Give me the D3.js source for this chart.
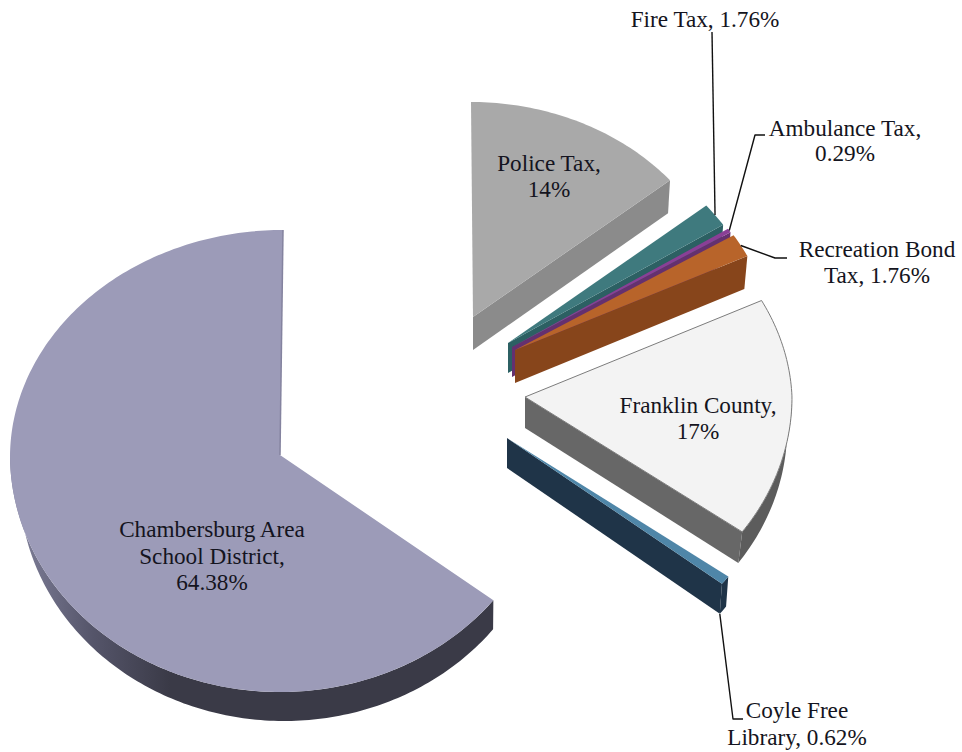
<!DOCTYPE html>
<html>
<head>
<meta charset="utf-8">
<style>
  html, body { margin: 0; padding: 0; background: #fff; }
  svg { display: block; }
  text { font-family: "Liberation Serif", serif; font-size: 23.2px; fill: #141420; text-anchor: middle; }
</style>
<script src="https://cdn.jsdelivr.net/npm/d3@7"></script>
</head>
<body>
<svg id="chart" width="962" height="752"></svg>
<script>
// Share of the property tax levy, clockwise from twelve o'clock.
const categories = ["Police Tax", "Fire Tax", "Ambulance Tax", "Recreation Bond Tax",
                    "Franklin County", "Coyle Free Library", "Chambersburg Area School District"];
const shares = [14, 1.76, 0.29, 1.76, 17, 0.62, 64.38];
const shareLabels = ["14%", "1.76%", "0.29%", "1.76%", "17%", "0.62%", "64.38%"];

const topColors  = ["#a9a9a9", "#3f7a7e", "#8a3f96", "#b8642a", "#f3f3f3", "#4f86a8", "#9c9bb8"];
const sideColors = ["#8b8b8b", "#2c6063", "#65306f", "#87451b", "#676767", "#1f3448", "#3a3a47"];
const rimColors  = ["#8b8b8b", "#2c6063", "#65306f", "#87451b", "#5c5c5c", "#1f3448", "url(#schoolRim)"];

// Each wedge is pulled away from the pie, so it has its own centre and ellipse.
const centerX = [473, 508, 512, 515, 525, 507, 280];
const centerY = [317, 343, 347, 350, 397, 438, 455];
const radiusX = [257, 257, 258, 258, 267, 272, 270];
const radiusUp = [215, 216, 216, 216, 222, 238, 225];
const radiusDown = [215, 216, 216, 216, 232, 238, 237];
const lean = [-2, 0, 0, 0, -9, 0, 3];
const depth = [33, 30, 30, 33, 31, 30, 29];
const rimShrink = [0.99, 0.99, 0.99, 0.987, 0.982, 0.99, 0.98];
const rimShift = [0, 0, 0, 0, 0, 0, 4];

// Label lines and their anchor point.
const labelLines = [
  ["Police Tax,", "14%"],
  ["Fire Tax, 1.76%"],
  ["Ambulance Tax,", "0.29%"],
  ["Recreation Bond", "Tax, 1.76%"],
  ["Franklin County,", "17%"],
  ["Coyle Free", "Library, 0.62%"],
  ["Chambersburg Area", "School District,", "64.38%"]
];
const labelX = [549, 705, 845, 877, 698, 797, 212];
const labelY = [171, 27, 136, 257, 413, 718, 537];
const labelStep = [26, 0, 25, 26, 26, 27, 26.5];

// Leader lines: wedge index, where on the wedge they start, and the elbow points.
const leaders = [
  { slice: 1, at: 0.5, lowered: false, path: [[712, 32]] },
  { slice: 2, at: 0.5, lowered: false, path: [[755, 135], [765, 135]] },
  { slice: 3, at: 0.5, lowered: false, path: [[775, 258], [787, 258]] },
  { slice: 5, at: 1, lowered: true, path: [[733, 719], [743, 719]] }
];

const svg = d3.select("#chart");

const defs = svg.append("defs");
const rimGrad = defs.append("linearGradient")
  .attr("id", "schoolRim").attr("gradientUnits", "userSpaceOnUse")
  .attr("x1", 15).attr("y1", 0).attr("x2", 170).attr("y2", 0);
rimGrad.append("stop").attr("offset", 0).attr("stop-color", "#80809a");
rimGrad.append("stop").attr("offset", 0.5).attr("stop-color", "#55556a");
rimGrad.append("stop").attr("offset", 1).attr("stop-color", "#3a3a47");

const arcs = d3.pie().sort(null).startAngle(0).endAngle(2 * Math.PI)(shares);

// Project a pie angle to the page; `lowered` gives the underside of the wedge.
function project(i, a, lowered) {
  const c = Math.cos(a), s = Math.sin(a);
  const dy = c >= 0 ? radiusUp[i] * c : radiusDown[i] * c;
  return [
    centerX[i] + s * radiusX[i] * (lowered ? rimShrink[i] : 1)
      + (lowered ? rimShift[i] : 0) + (c > 0 ? lean[i] * c : 0),
    centerY[i] - dy + (lowered ? depth[i] : 0)
  ];
}

function sweep(i, a0, a1, lowered) {
  const n = Math.max(2, Math.ceil(Math.abs(a1 - a0) * 60));
  return d3.range(n + 1).map(k => project(i, a0 + (a1 - a0) * k / n, lowered));
}

const polygon = d3.line().curve(d3.curveLinearClosed);

const wedges = svg.append("g").selectAll("g").data(arcs).join("g");

wedges.each(function (d, i) {
  const g = d3.select(this);
  const apex = [centerX[i], centerY[i]];
  const apexLow = [centerX[i], centerY[i] + depth[i]];

  // Cut face along the wedge's closing edge, seen only on the right of the pie.
  if (d.endAngle < Math.PI) {
    g.append("path")
      .attr("d", polygon([apex, project(i, d.endAngle, false), project(i, d.endAngle, true), apexLow]))
      .attr("fill", sideColors[i]);
  }

  // Outer rim, seen along the lower half of the ellipse.
  const r0 = Math.max(d.startAngle, Math.PI / 2);
  const r1 = Math.min(d.endAngle, 3 * Math.PI / 2);
  if (r1 > r0) {
    g.append("path")
      .attr("d", polygon(sweep(i, r0, r1, false).concat(sweep(i, r1, r0, true))))
      .attr("fill", rimColors[i]);
  }

  // Upper face.
  const face = g.append("path")
    .attr("d", polygon([apex].concat(sweep(i, d.startAngle, d.endAngle, false))))
    .attr("fill", topColors[i]);
  if (categories[i] === "Franklin County") {
    face.attr("stroke", "#7c7c7c").attr("stroke-width", 1);
  }
  if (d.endAngle >= 2 * Math.PI - 1e-6) {
    g.append("path")
      .attr("d", d3.line()([apex, project(i, d.endAngle, false)]))
      .attr("stroke", "#84839f").attr("stroke-width", 1.5).attr("fill", "none");
  }
});

svg.append("g").selectAll("path").data(leaders).join("path")
  .attr("fill", "none").attr("stroke", "#111").attr("stroke-width", 1.4)
  .attr("stroke-linejoin", "round")
  .attr("d", l => {
    const d = arcs[l.slice];
    const a = d.startAngle + (d.endAngle - d.startAngle) * l.at;
    return d3.line()([project(l.slice, a, l.lowered)].concat(l.path));
  });

const labels = svg.append("g").selectAll("text").data(categories).join("text")
  .attr("aria-label", (c, i) => c + ", " + shareLabels[i]);

labels.selectAll("tspan").data((c, i) => labelLines[i].map(t => ({ t, i }))).join("tspan")
  .attr("x", d => labelX[d.i])
  .attr("y", (d, k) => labelY[d.i] + k * labelStep[d.i])
  .text(d => d.t);
</script>
</body>
</html>
